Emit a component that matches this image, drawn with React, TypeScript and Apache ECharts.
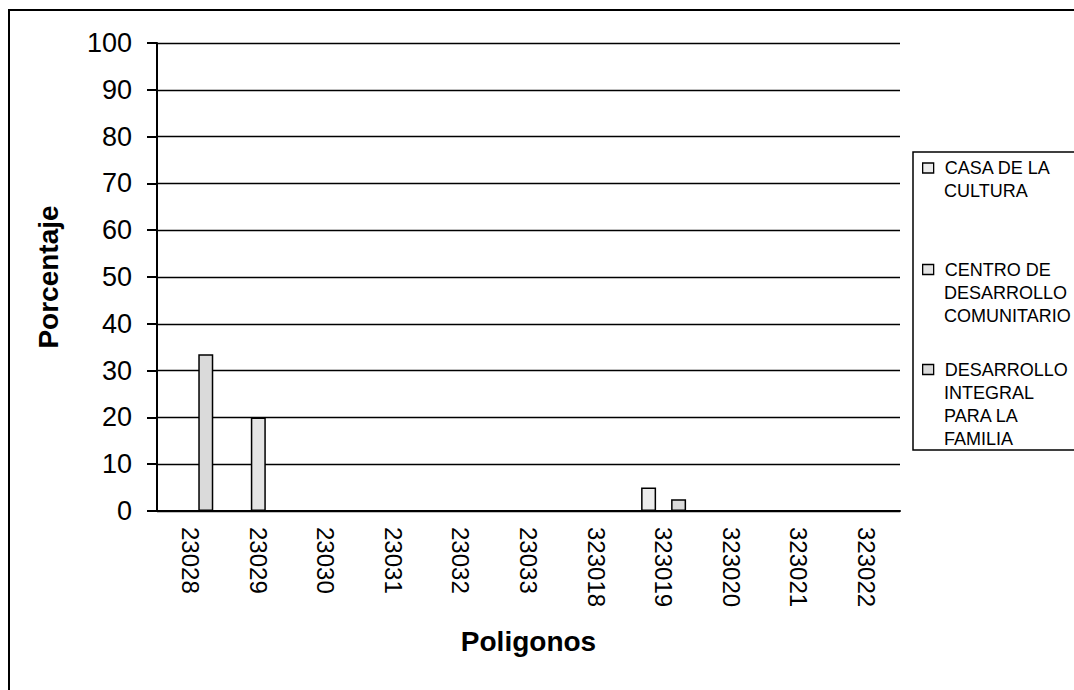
import React, { useEffect, useRef } from "react";
import * as echarts from "echarts";

const categories = ["23028", "23029", "23030", "23031", "23032", "23033", "323018", "323019", "323020", "323021", "323022"];
const seriesNames = ["CASA DE LA CULTURA", "CENTRO DE DESARROLLO COMUNITARIO", "DESARROLLO INTEGRAL PARA LA FAMILIA"];
const legendLines = [
  ["CASA DE LA", "CULTURA"],
  ["CENTRO DE", "DESARROLLO", "COMUNITARIO"],
  ["DESARROLLO", "INTEGRAL", "PARA LA", "FAMILIA"],
];
const casaCultura = [0, 0, 0, 0, 0, 0, 0, 5, 0, 0, 0];
const centroDesarrollo = [0, 20, 0, 0, 0, 0, 0, 0, 0, 0, 0];
const desarrolloIntegral = [33.5, 0, 0, 0, 0, 0, 0, 2.5, 0, 0, 0];
const seriesColors = ["#ececec", "#e4e4e4", "#dadada"];
const yTicks = { min: 0, max: 100, interval: 10 };

const FONT = "Arial, 'Liberation Sans', sans-serif";

export default function App() {
  const ref = useRef<HTMLDivElement>(null);
  useEffect(() => {
    if (!ref.current) return;
    const chart = echarts.init(ref.current, undefined, { renderer: "svg" });
    const values = [casaCultura, centroDesarrollo, desarrolloIntegral];
    const legendTops = [148.5, 250, 350];
    const lineH = 23;
    const graphics: any[] = [
      { type: "rect", shape: { x: 1, y: 2, width: 1200, height: 1000 }, style: { fill: "none", stroke: "#000", lineWidth: 2 }, silent: true },
      { type: "rect", shape: { x: 905, y: 144, width: 300, height: 298 }, style: { fill: "none", stroke: "#000", lineWidth: 1.5 }, silent: true },
    ];
    legendLines.forEach((lines, i) => {
      lines.slice(1).forEach((t, j) => {
        graphics.push({
          type: "text",
          x: 936,
          y: legendTops[i] + lineH / 2 + (j + 1) * lineH,
          style: { text: t, fontSize: 18, fontFamily: FONT, fill: "#000", textVerticalAlign: "middle", textAlign: "left" },
          silent: true,
        });
      });
    });
    chart.setOption({
      animation: false,
      backgroundColor: "#fff",
      grid: { left: 149, top: 35, width: 743, height: 468, containLabel: false },
      xAxis: {
        type: "category",
        data: categories,
        name: "Poligonos",
        nameLocation: "middle",
        nameGap: 116,
        nameTextStyle: { fontSize: 28, fontWeight: "bold", fontFamily: FONT, color: "#000" },
        axisLine: { lineStyle: { color: "#000", width: 2 } },
        axisTick: { length: 10, lineStyle: { color: "#000", width: 2 } },
        axisLabel: { rotate: -90, fontSize: 24, fontFamily: FONT, color: "#000", margin: 16, interval: 0 },
      },
      yAxis: {
        type: "value",
        min: yTicks.min,
        max: yTicks.max,
        interval: yTicks.interval,
        name: "Porcentaje",
        nameLocation: "middle",
        nameRotate: 90,
        nameGap: 95,
        nameTextStyle: { fontSize: 28, fontWeight: "bold", fontFamily: FONT, color: "#000" },
        axisLine: { show: true, lineStyle: { color: "#000", width: 2 } },
        axisTick: { show: true, length: 10, lineStyle: { color: "#000", width: 2 } },
        axisLabel: { fontSize: 27, fontFamily: FONT, color: "#000", margin: 25 },
        splitLine: { show: true, lineStyle: { color: "#000", width: 1.4 } },
      },
      legend: seriesNames.map((n, i) => ({
        data: [n],
        left: 914,
        top: legendTops[i],
        orient: "vertical",
        padding: 0,
        icon: "rect",
        itemWidth: 11,
        itemHeight: 10,
        selectedMode: false,
        itemStyle: { borderColor: "#000", borderWidth: 1.3 },
        formatter: () => legendLines[i][0],
        textStyle: { fontSize: 18, fontFamily: FONT, color: "#000", lineHeight: lineH, padding: [0, 0, 0, 6] },
      })),
      series: seriesNames.map((n, i) => ({
        name: n,
        type: "bar",
        data: values[i],
        barWidth: 15,
        barGap: "0%",
        itemStyle: { color: seriesColors[i], borderColor: "#000", borderWidth: 1.5 },
      })),
      graphic: graphics,
    });
    return () => chart.dispose();
  }, []);
  return <div ref={ref} style={{ position: "fixed", left: 8, top: 8, width: 1066, height: 682 }} />;
}
